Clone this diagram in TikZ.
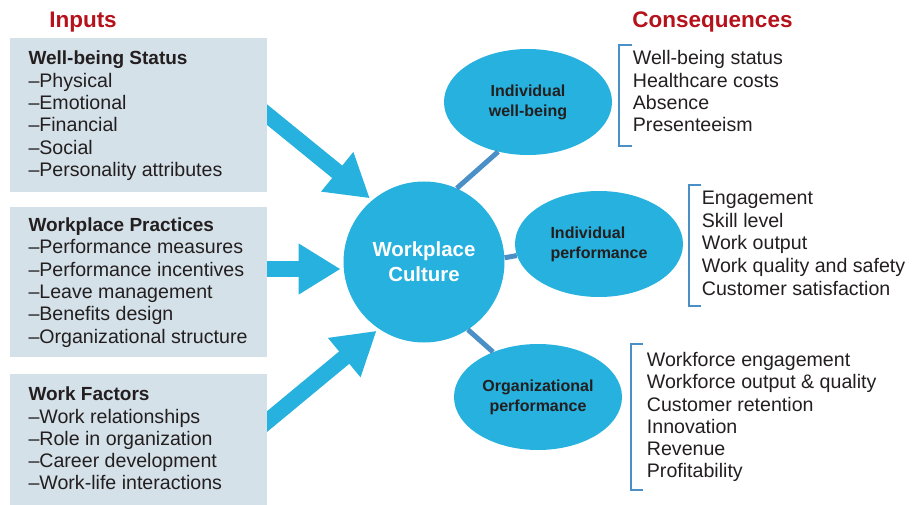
\documentclass[tikz,border=0pt]{standalone}
\usepackage{fontspec}
\setmainfont{Liberation Sans}
\usetikzlibrary{arrows.meta, shapes.geometric, backgrounds}

\definecolor{culturecyan}{RGB}{38,177,222}
\definecolor{inputgrey}{RGB}{213,225,233}
\definecolor{headred}{RGB}{181,18,27}
\definecolor{linkblue}{RGB}{74,144,199}
\definecolor{inktext}{RGB}{35,31,32}

\begin{document}
\begin{tikzpicture}[x=1pt, y=-1pt,
        heading/.style={anchor=base, inner sep=0, text=headred, font=\fontsize{22.5}{26}\selectfont\bfseries},
        inbox/.style={fill=inputgrey, minimum width=257pt, inner sep=0},
        item/.style={anchor=base west, inner sep=0, text=inktext, font=\fontsize{19.6}{22}\selectfont},
        outcome/.style={ellipse, fill=culturecyan, minimum width=168pt, minimum height=106pt, inner sep=0,
            text=inktext, font=\fontsize{16}{20}\selectfont\bfseries},
        bigarrow/.style={draw=culturecyan, line width=16pt, -{Triangle[width=48pt,length=42pt]},
            shorten <=-12pt, shorten >=3pt},
        link/.style={draw=linkblue, line width=5pt},
        bracket/.style={draw=linkblue, line width=2.5pt}]
    \useasboundingbox (0,0) rectangle (921,505);

    \node[heading] (inputs) at (83,27.7) {Inputs};
    \node[heading] (consequences) at (712.5,27.7) {Consequences};

    % input boxes
    \node[inbox, minimum height=154pt] (wbs) at (138.4,114.7) {};
    \node[inbox, minimum height=150pt] (prac) at (138.4,281.7) {};
    \node[inbox, minimum height=131pt] (fact) at (138.4,439.5) {};

    \node[item, font=\fontsize{19}{22}\selectfont\bfseries] (wbs-t) at (28.3,65) {Well-being Status};
    \foreach \txt [count=\k] in {Physical, Emotional, Financial, Social, Personality attributes}
        \node[item] (wbs-\k) at (28.3,65+22.3*\k) {\textendash\txt};
    \node[item, font=\fontsize{19}{22}\selectfont\bfseries] (prac-t) at (28.3,231.7) {Workplace Practices};
    \foreach \txt [count=\k] in {Performance measures, Performance incentives, Leave management,
            Benefits design, Organizational structure}
        \node[item] (prac-\k) at (28.3,231.7+22.3*\k) {\textendash\txt};
    \node[item, font=\fontsize{19}{22}\selectfont\bfseries] (fact-t) at (28.3,400.7) {Work Factors};
    \foreach \txt [count=\k] in {Work relationships, Role in organization, Career development,
            Work-life interactions}
        \node[item] (fact-\k) at (28.3,400.7+22.3*\k) {\textendash\txt};

    % culture and the three outcomes
    \node[circle, fill=culturecyan, minimum size=161pt, inner sep=0, align=center, text=white,
        font=\fontsize{20.4}{25}\selectfont\bfseries] (culture) at (424,262) {Workplace\\Culture};
    \node[outcome, align=center] (wellbeing) at (528,102) {Individual\\well-being};
    \node[outcome, align=left] (indperf) at (599,244) {Individual\\performance};
    \node[outcome, align=center] (orgperf) at (538,397) {Organizational\\performance};

    \draw[link] (culture.66) -- (wellbeing.239);
    \draw[link] (culture.3) -- (indperf.188);
    \draw[link] (culture.303) -- (orgperf.135);

    \begin{scope}[on background layer]
        \draw[bigarrow] (wbs.east) -- (culture.130);
        \draw[bigarrow] (culture.185 -| prac.east) -- (culture.185);
        \draw[bigarrow] ([yshift=18pt]fact.east) -- (culture.236);
    \end{scope}

    % consequence lists
    \draw[bracket] (632,45) -| (619,146) -- (632,146);
    \foreach \txt [count=\k from 0] in {Well-being status, Healthcare costs, Absence, Presenteeism}
        \node[item] (wb-\k) at (632.7,65+22.2*\k) {\txt};
    \draw[bracket] (701,185) -| (689,306) -- (701,306);
    \foreach \txt [count=\k from 0] in {Engagement, Skill level, Work output,
            Work quality and safety, Customer satisfaction}
        \node[item] (ip-\k) at (701.7,205+22.5*\k) {\txt};
    \draw[bracket] (643,344) -| (631,490) -- (643,490);
    \foreach \txt [count=\k from 0] in {Workforce engagement, Workforce output \& quality,
            Customer retention, Innovation, Revenue, Profitability}
        \node[item] (op-\k) at (646.7,366.7+22.2*\k) {\txt};
\end{tikzpicture}
\end{document}
